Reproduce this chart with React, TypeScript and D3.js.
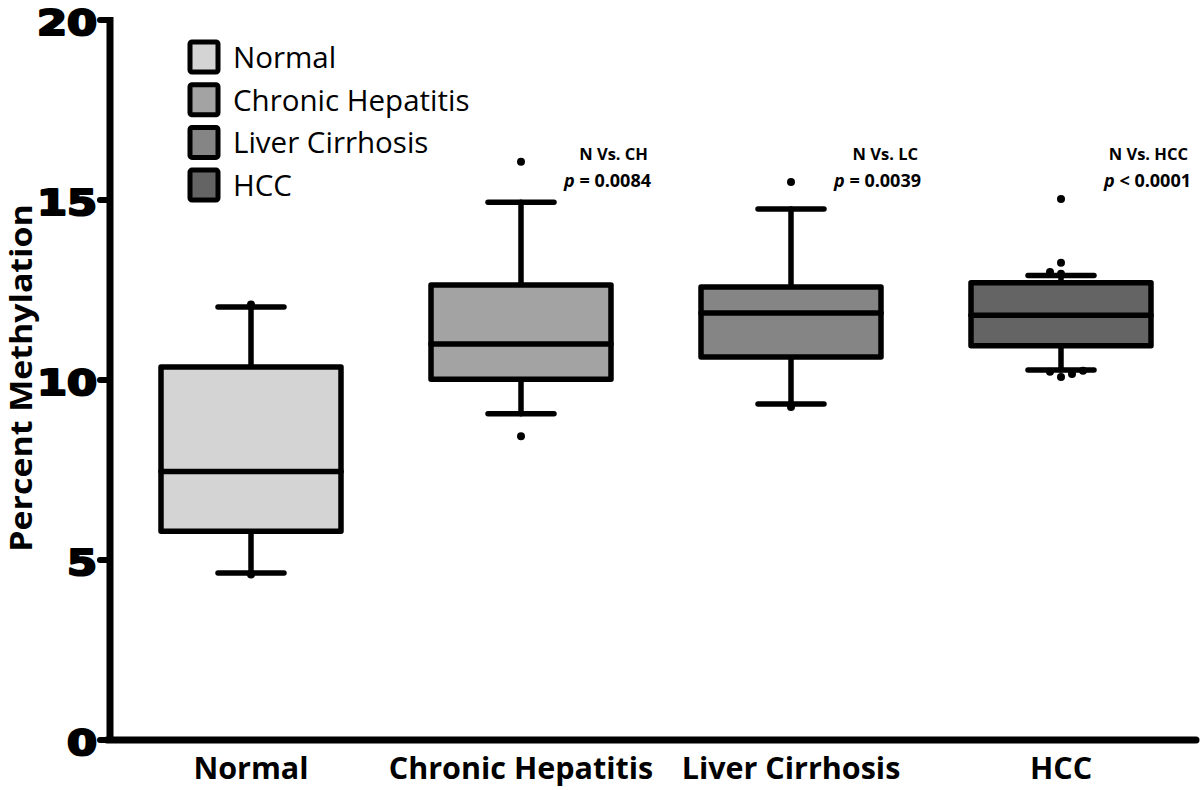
import React from "react";
import * as d3 from "d3";

// groups and their box summaries (percent methylation)
const groups = ["Normal", "Chronic Hepatitis", "Liver Cirrhosis", "HCC"];
const fills = ["#d4d4d4", "#a3a3a3", "#858585", "#646464"];
const q1 = [5.8, 10.02, 10.64, 10.95];
const median = [7.46, 11.0, 11.86, 11.8];
const q3 = [10.36, 12.64, 12.58, 12.7];
const whiskerLow = [4.64, 9.06, 9.33, 10.28];
const whiskerHigh = [12.03, 14.94, 14.75, 12.9];

// individual points drawn beyond / at the whiskers: [group index, value, side slot]
const points: [number, number, number][] = [
  [0, 12.1, 0],
  [0, 4.6, 0],
  [1, 16.06, 0],
  [1, 8.44, 0],
  [2, 15.5, 0],
  [2, 9.25, 0],
  [3, 15.03, 0],
  [3, 13.26, 0],
  [3, 13.0, -1],
  [3, 12.95, 0],
  [3, 10.23, -1],
  [3, 10.08, 0],
  [3, 10.17, 1],
  [3, 10.26, 2],
];

// comparison notes above the disease groups
const notes = [
  { group: 1, title: "N Vs. CH", sign: "=", p: "0.0084" },
  { group: 2, title: "N Vs. LC", sign: "=", p: "0.0039" },
  { group: 3, title: "N Vs. HCC", sign: "<", p: "0.0001" },
];

const yTicks = [0, 5, 10, 15, 20];

const W = 1200;
const H = 790;
const font = "'Open Sans', sans-serif";

export default function App() {
  const y = d3.scaleLinear().domain([0, 20]).range([740, 20]);
  const x = d3.scalePoint<string>().domain(groups).range([251, 1061]);
  const half = 90;
  const cap = 33;

  return (
    <svg
      width={W}
      height={H}
      style={{ position: "absolute", left: 0, top: 0, background: "#fff" }}
    >
      {/* boxes */}
      {groups.map((g, i) => {
        const cx = x(g)!;
        return (
          <g key={g} stroke="#000" strokeWidth={5.5} strokeLinecap="round">
            <line x1={cx} x2={cx} y1={y(whiskerHigh[i])} y2={y(q3[i])} />
            <line x1={cx} x2={cx} y1={y(q1[i])} y2={y(whiskerLow[i])} />
            <line x1={cx - cap} x2={cx + cap} y1={y(whiskerHigh[i])} y2={y(whiskerHigh[i])} />
            <line x1={cx - cap} x2={cx + cap} y1={y(whiskerLow[i])} y2={y(whiskerLow[i])} />
            <rect
              x={cx - half}
              y={y(q3[i])}
              width={half * 2}
              height={y(q1[i]) - y(q3[i])}
              fill={fills[i]}
              strokeLinejoin="round"
            />
            <line x1={cx - half} x2={cx + half} y1={y(median[i])} y2={y(median[i])} />
          </g>
        );
      })}

      {/* points */}
      {points.map(([gi, v, slot], k) => (
        <circle key={k} cx={x(groups[gi])! + slot * 11} cy={y(v)} r={4} fill="#000" />
      ))}

      {/* axes */}
      <line x1={110} x2={110} y1={y(20) - 3} y2={y(0) + 3} stroke="#000" strokeWidth={7} />
      <line x1={107} x2={1196} y1={y(0)} y2={y(0)} stroke="#000" strokeWidth={7} strokeLinecap="round" />
      {yTicks.map((t) => (
        <g key={t}>
          <line x1={100} x2={110} y1={y(t)} y2={y(t)} stroke="#000" strokeWidth={6} strokeLinecap="round" />
          <text
            transform={`translate(97,${y(t) + 14.5}) scale(1.2,1)`}
            textAnchor="end"
            fontFamily="'DejaVu Sans', sans-serif"
            fontWeight="bold"
            fontSize={36}
            stroke="#000"
            strokeWidth={2.2}
            strokeLinejoin="round"
          >
            {t}
          </text>
        </g>
      ))}
      <text
        transform={`translate(32,${y(10) - 2}) rotate(-90) scale(1.15,1)`}
        textAnchor="middle"
        fontFamily={font}
        fontWeight="bold"
        fontSize={29.5}
      >
        Percent Methylation
      </text>
      {groups.map((g) => (
        <text key={g} x={x(g)} y={779} textAnchor="middle" fontFamily={font} fontWeight="bold" fontSize={30.5}>
          {g}
        </text>
      ))}

      {/* legend */}
      {groups.map((g, i) => (
        <g key={g} transform={`translate(190,${42 + i * 42.7})`}>
          <rect x={0} y={0} width={28} height={30} fill={fills[i]} stroke="#000" strokeWidth={5} rx={2} />
          <text x={43} y={26} fontFamily={font} fontSize={29.5}>
            {g}
          </text>
        </g>
      ))}

      {/* notes */}
      {notes.map((n) => {
        const rx = x(groups[n.group])! + 130;
        return (
          <g key={n.title} fontFamily={font} fontWeight="bold" textAnchor="end">
            <text x={rx - 3} y={160} fontSize={16.5}>
              {n.title}
            </text>
            <text x={rx} y={187} fontSize={18}>
              <tspan fontStyle="italic">p</tspan> {n.sign} {n.p}
            </text>
          </g>
        );
      })}
    </svg>
  );
}
